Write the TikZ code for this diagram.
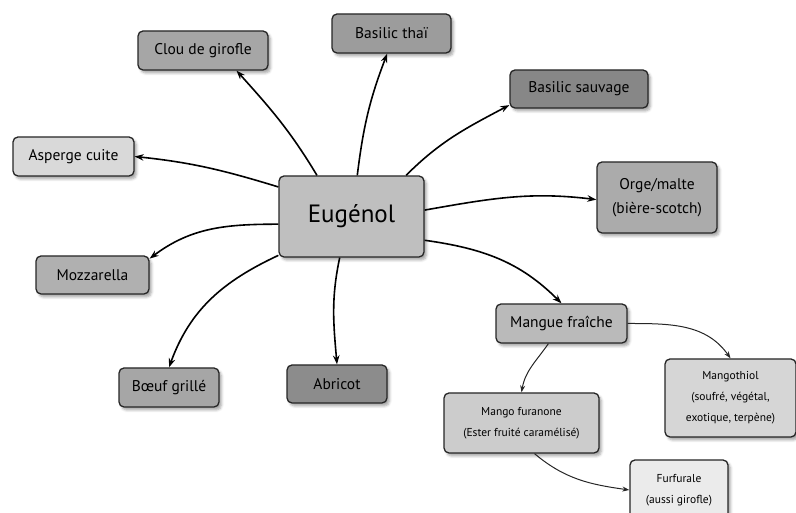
\documentclass[tikz,border=0pt]{standalone}
\usepackage{fontspec}
\setmainfont{PT Sans}
\usepackage{tikz}
\usetikzlibrary{arrows.meta,shadows.blur}
\tikzset{
    box/.style={
           rectangle, rounded corners=5pt,
           draw=black!85, line width=1.3pt,
           inner sep=2pt, align=center,
           font=\fontsize{15.5}{24}\selectfont,
           blur shadow={shadow xshift=2.5pt, shadow yshift=-3pt,
                        shadow opacity=35, shadow blur radius=2.5pt},
           },
    small/.style={box, font=\fontsize{11.5}{21}\selectfont},
    link/.style={-{Stealth[length=9pt,width=6.5pt]}, line width=1.6pt},
    sublink/.style={-{Stealth[length=7pt,width=5pt]}, line width=1pt, black!85},
}

\begin{document}
\begin{tikzpicture}[x=1pt,y=1pt]
\useasboundingbox (0,0) rectangle (796,513);
% centre
\node[box, fill=black!25, minimum width=145pt, minimum height=81pt, font=\fontsize{25}{28}\selectfont] (eug) at (351.5,296.5) {Eugénol};
% ring
\node[box, fill=black!35, minimum width=130pt, minimum height=39pt] (clou) at (203,462.5) {Clou de girofle};
\node[box, fill=black!39, minimum width=119pt, minimum height=39pt] (thai) at (391.5,479.5) {Basilic thaï};
\node[box, fill=black!47, minimum width=138pt, minimum height=38pt] (sauv) at (579,424) {Basilic sauvage};
\node[box, fill=black!15, minimum width=121pt, minimum height=39pt] (asp) at (73.5,356.5) {Asperge cuite};
\node[box, fill=black!31, minimum width=113pt, minimum height=38pt] (mozz) at (92.5,238) {Mozzarella};
\node[box, fill=black!35, minimum width=100pt, minimum height=39pt] (boeuf) at (169,125.5) {Bœuf grillé};
\node[box, fill=black!45, minimum width=100pt, minimum height=38pt] (abr) at (337,129) {Abricot};
\node[box, fill=black!33, minimum width=120pt, minimum height=71pt] (orge) at (657,315.5) {Orge/malte\\(bière-scotch)};
\node[box, fill=black!27, minimum width=131pt, minimum height=39pt] (mangue) at (561.5,189.5) {Mangue fraîche};
% mangue
\node[small, fill=black!16, minimum width=131pt, minimum height=78pt] (mthiol) at (730.5,115) {Mangothiol\\(soufré, végétal,\\exotique, terpène)};
\node[small, fill=black!20, minimum width=155pt, minimum height=60pt] (furan) at (521.5,90) {Mango furanone\\(Ester fruité caramélisé)};
\node[small, fill=black!8, minimum width=98pt, minimum height=60pt] (furf) at (679,23) {Furfurale\\(aussi girofle)};

\draw[link] (eug.130) to[out=121, in=-48] (clou.-31);
\draw[link] (eug.82) to[out=83, in=-111] (thai.-102);
\draw[link] (eug.37) to[out=45, in=208] (sauv.193);
\draw[link] (eug.158) to[out=163, in=-6] (asp.east);
\draw[link] (eug.186) to[out=180, in=37] (mozz.16);
\draw[link] (eug.208) to[out=205, in=70] (boeuf.north);
\draw[link] (eug.254) to[out=258, in=95] (abr.north);
\draw[link] (eug.5) to[out=10, in=173] (orge.182);
\draw[link] (eug.-18) to[out=-8, in=135] (mangue.north);
\draw[sublink] (mangue.east) to[out=0, in=125] (mthiol.north);
\draw[sublink] (mangue.237) to[out=235, in=80] (furan.north);
\draw[sublink] (furan.293) to[out=-40, in=172] (furf.west);
\end{tikzpicture}
\end{document}
